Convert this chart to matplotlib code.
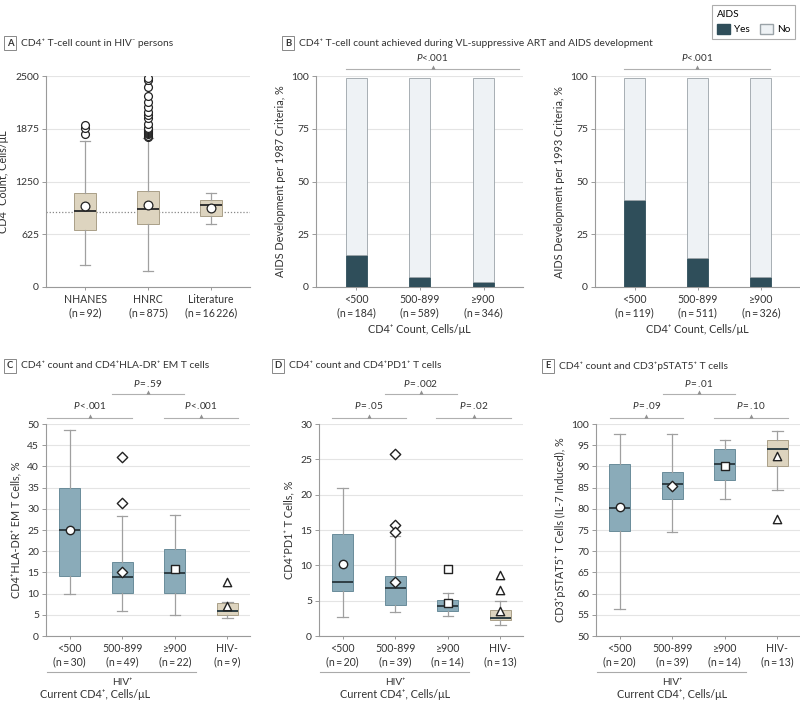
import matplotlib
matplotlib.use("Agg")
import matplotlib.pyplot as plt
from matplotlib.patches import Patch
import numpy as np

plt.rcParams['font.family'] = ['Lato', 'DejaVu Sans']
plt.rcParams['mathtext.fontset'] = 'custom'
plt.rcParams['mathtext.it'] = 'Lato:italic'
plt.rcParams['mathtext.rm'] = 'Lato'

# ---------------- data ----------------
A_groups = ['NHANES', 'HNRC', 'Literature']
A_n = ['92', '875', '16\u2009226']
A_lo = [265, 190, 752]
A_q1 = [680, 744, 839]
A_med = [902, 922, 969]
A_q3 = [1119, 1143, 1032]
A_hi = [1729, 1760, 1111]
A_mean = [957, 969, 937]
A_out_nhanes = [1808, 1879, 1918]
A_out_hnrc = [1772, 1790, 1812, 1825, 1839, 1848, 1855, 1867, 1880, 1930,
              1998, 2037, 2077, 2128, 2188, 2267, 2366, 2453, 2472]
A_out_lit = []
A_ref = 894

B_cats = ['<500', '500-899', '\u2265900']
B1_n = ['184', '589', '346']
B1_yes = [15.2, 4.7, 2.3]
B1_no = [83.8, 94.3, 96.7]
B2_n = ['119', '511', '326']
B2_yes = [41.3, 13.6, 4.6]
B2_no = [57.7, 85.4, 94.4]

CE_cats = ['<500', '500-899', '\u2265900', 'HIV-']

C_n = ['30', '49', '22', '9']
C_lo = [10.0, 5.9, 5.0, 4.3]
C_q1 = [14.1, 10.1, 10.2, 5.0]
C_med = [25.1, 13.8, 14.9, 5.8]
C_q3 = [35.0, 17.5, 20.6, 7.9]
C_hi = [48.5, 28.3, 28.5, 8.0]
C_mean = [25.1, 15.2, 15.8, 7.0]
C_out = [[], [42.2, 31.3], [], [12.8]]

D_n = ['20', '39', '14', '13']
D_lo = [2.7, 3.4, 2.8, 1.6]
D_q1 = [6.3, 4.4, 3.6, 2.3]
D_med = [7.7, 6.8, 4.2, 2.6]
D_q3 = [14.5, 8.45, 5.1, 3.7]
D_hi = [20.9, 14.2, 6.1, 4.9]
D_mean = [10.2, 7.7, 4.6, 3.5]
D_out = [[], [25.8, 15.7, 14.7], [9.5], [8.6, 6.5]]

E_n = ['20', '39', '14', '13']
E_lo = [56.4, 74.6, 82.2, 84.5]
E_q1 = [74.8, 82.3, 86.9, 90.2]
E_med = [80.1, 85.9, 90.5, 94.2]
E_q3 = [90.5, 88.6, 94.1, 96.3]
E_hi = [97.6, 97.6, 96.3, 98.3]
E_mean = [80.4, 85.4, 90.0, 92.4]
E_out = [[], [], [], [77.6]]

# ---------------- style ----------------
BLUE = '#8aabb9'
BLUE_EDGE = '#6a8c9a'
BEIGE = '#ddd4bf'
BEIGE_EDGE = '#a99f88'
DARK = '#2f4e5a'
LIGHT = '#eef2f5'
GRID = '#e4e4e4'
SPINE = '#9a9a9a'
TXT = '#333333'
TS = 7.2

W, H = 800, 701
fig = plt.figure(figsize=(W / 100, H / 100), dpi=100)


def px_axes(l, r, t, b):
    return fig.add_axes([l / W, 1 - b / H, (r - l) / W, (b - t) / H])


def style(ax, yticks, ylim, xlim):
    ax.set_ylim(*ylim)
    ax.set_xlim(*xlim)
    ax.set_yticks(yticks)
    ax.yaxis.grid(True, color=GRID, lw=0.8)
    ax.set_axisbelow(True)
    for s in ['top', 'right']:
        ax.spines[s].set_visible(False)
    for s in ['left', 'bottom']:
        ax.spines[s].set_color(SPINE)
        ax.spines[s].set_linewidth(0.8)
    ax.tick_params(axis='both', colors=SPINE, labelcolor=TXT, labelsize=TS + 0.3,
                   length=3, width=0.7, pad=2)
    ax.tick_params(axis='x', length=2, pad=3)


def ptext(s):
    return r'$P$' + s


def bracket(ax, x0, x1, yline, ytext, label):
    tr = ax.get_xaxis_transform()
    ax.plot([x0, x1], [yline, yline], transform=tr, clip_on=False,
            color='#b0b0b0', lw=0.8)
    xm = (x0 + x1) / 2
    ax.plot([xm], [yline + 0.008], transform=tr, clip_on=False, marker='^',
            ms=3, color='#909090', mec='none')
    ax.text(xm, ytext, ptext(label), transform=tr, ha='center', va='center',
            fontsize=TS, color=TXT)


def panel_label(x, y, letter, title):
    fig.text(x / W, 1 - y / H, letter, fontsize=6.8, fontweight='bold',
             color=TXT, ha='center', va='center',
             bbox=dict(boxstyle='square,pad=0.3', fc='white', ec='#888888',
                       lw=0.7))
    fig.text((x + 11) / W, 1 - y / H, title, fontsize=7.4, color=TXT,
             ha='left', va='center')


# ---------------- Panel A ----------------
axA = px_axes(46, 250, 76, 287)
posA = np.arange(len(A_groups))
statsA = []
for i in range(len(A_groups)):
    statsA.append(dict(whislo=A_lo[i], q1=A_q1[i], med=A_med[i], q3=A_q3[i],
                       whishi=A_hi[i], fliers=[]))
axA.bxp(statsA, positions=posA, widths=0.35, patch_artist=True,
        showfliers=False,
        boxprops=dict(facecolor=BEIGE, edgecolor=BEIGE_EDGE, lw=0.7),
        medianprops=dict(color='#333333', lw=1.4),
        whiskerprops=dict(color='#a0a0a0', lw=0.9),
        capprops=dict(color='#a0a0a0', lw=0.9), capwidths=0.15)
axA.axhline(A_ref, color='#888888', lw=0.9, ls=(0, (1, 1.5)), zorder=1)
for i, outs in enumerate([A_out_nhanes, A_out_hnrc, A_out_lit]):
    if outs:
        axA.scatter([posA[i]] * len(outs), outs, s=32, marker='o',
                    facecolor='white', edgecolor='#222222', lw=0.9, zorder=4)
axA.scatter(posA, A_mean, s=40, marker='o', facecolor='white',
            edgecolor='#222222', lw=0.9, zorder=5)
style(axA, [0, 625, 1250, 1875, 2500], (0, 2500), (-0.62, 2.62))
axA.set_xticks(posA)
axA.set_xticklabels([f'{g}\n(n\u2009=\u2009{n})' for g, n in zip(A_groups, A_n)],
                    fontsize=TS + 0.4, linespacing=1.25)
axA.set_ylabel('CD4\u207a Count, Cells/\u03bcL', fontsize=TS + 0.6, color=TXT,
               labelpad=4)
panel_label(10, 43, 'A', 'CD4\u207a T-cell count in HIV\u207b persons')

# ---------------- Panel B ----------------
panel_label(288, 43, 'B', 'CD4\u207a T-cell count achieved during '
            'VL-suppressive ART and AIDS development')


def bar_panel(ax, yes, no, ns, ylabel, br):
    pos = np.arange(len(B_cats))
    ax.bar(pos, yes, width=0.33, color=DARK, edgecolor=DARK, lw=0.6, zorder=3)
    ax.bar(pos, no, width=0.33, bottom=yes, color=LIGHT, edgecolor='#9aa3a8',
           lw=0.6, zorder=3)
    style(ax, [0, 25, 50, 75, 100], (0, 100), (-0.63, 2.62))
    ax.set_xticks(pos)
    ax.set_xticklabels([f'{c}\n(n\u2009=\u2009{n})' for c, n in zip(B_cats, ns)],
                       fontsize=TS + 0.4, linespacing=1.25)
    ax.set_ylabel(ylabel, fontsize=TS + 0.6, color=TXT, labelpad=4)
    ax.set_xlabel('CD4\u207a Count, Cells/\u03bcL', fontsize=TS + 0.6,
                  color=TXT, labelpad=4)
    bracket(ax, br[0], br[1], 1.033, 1.09, '<.001')


axB1 = px_axes(316, 523, 76, 287)
bar_panel(axB1, B1_yes, B1_no, B1_n,
          'AIDS Development per 1987 Criteria, %', (-0.16, 2.56))
axB2 = px_axes(595, 800, 76, 287)
bar_panel(axB2, B2_yes, B2_no, B2_n,
          'AIDS Development per 1993 Criteria, %', (-0.17, 2.14))

leg = fig.legend(handles=[Patch(facecolor=DARK, edgecolor=DARK, label='Yes'),
                          Patch(facecolor=LIGHT, edgecolor='#9aa3a8', label='No')],
                 title='AIDS', ncol=2, loc='upper right',
                 bbox_to_anchor=(1.0, 1.0), frameon=True, fancybox=False,
                 edgecolor='#999999', fontsize=TS, title_fontsize=TS,
                 handlelength=1.3, handleheight=1.1, handletextpad=0.4,
                 columnspacing=1.0, borderpad=0.5, alignment='left')
leg.get_frame().set_linewidth(0.8)

# ---------------- Panels C, D, E ----------------
MARKERS = ['o', 'D', 's', '^']
MSIZE = [36, 28, 34, 36]


def box_panel(ax, lo, q1, med, q3, hi, mean, outs, ns, yticks, ylim, ylabel,
              brackets, cur_x):
    pos = np.arange(len(CE_cats))
    stats = []
    for i in range(len(CE_cats)):
        stats.append(dict(whislo=lo[i], q1=q1[i], med=med[i], q3=q3[i],
                          whishi=hi[i], fliers=[]))
    parts = ax.bxp(stats, positions=pos, widths=0.4, patch_artist=True,
                   showfliers=False,
                   medianprops=dict(color='#2f3f45', lw=1.4),
                   whiskerprops=dict(color='#a0a0a0', lw=0.9),
                   capprops=dict(color='#a0a0a0', lw=0.9), capwidths=0.2)
    for i, b in enumerate(parts['boxes']):
        if i < 3:
            b.set_facecolor(BLUE)
            b.set_edgecolor(BLUE_EDGE)
        else:
            b.set_facecolor(BEIGE)
            b.set_edgecolor(BEIGE_EDGE)
        b.set_linewidth(0.7)
    for i in range(len(CE_cats)):
        pts = [mean[i]] + outs[i]
        ax.scatter([pos[i]] * len(pts), pts, s=MSIZE[i], marker=MARKERS[i],
                   facecolor='white', edgecolor='#222222', lw=1.0, zorder=5)
    style(ax, yticks, ylim, (-0.45, 3.43))
    ax.set_xticks(pos)
    ax.set_xticklabels([f'{c}\n(n\u2009=\u2009{n})' for c, n in zip(CE_cats, ns)],
                       fontsize=TS + 0.4, linespacing=1.25)
    ax.set_ylabel(ylabel, fontsize=TS + 0.6, color=TXT, labelpad=4)
    tr = ax.get_xaxis_transform()
    ax.plot([-0.44, 2.41], [-0.17, -0.17], transform=tr, clip_on=False,
            color='#aaaaaa', lw=0.8)
    ax.text(1.0, -0.217, 'HIV\u207a', transform=tr, ha='center', va='center',
            fontsize=TS, color=TXT)
    ax.text(cur_x, -0.278, 'Current CD4\u207a, Cells/\u03bcL', transform=tr,
            ha='center', va='center', fontsize=TS + 0.6, color=TXT)
    for (x0, x1, level, lab) in brackets:
        if level == 0:
            bracket(ax, x0, x1, 1.028, 1.085, lab)
        else:
            bracket(ax, x0, x1, 1.1415, 1.193, lab)


axC = px_axes(46, 250, 424, 636)
box_panel(axC, C_lo, C_q1, C_med, C_q3, C_hi, C_mean, C_out, C_n,
          np.arange(0, 51, 5), (0, 50), 'CD4\u207aHLA-DR\u207a EM T Cells, %',
          [(-0.43, 1.19, 0, '\u2009<.001'), (1.8, 3.2, 0, '\u2009<.001'),
           (0.8, 2.18, 1, '\u2009=\u2009.59')], 0.48)
panel_label(10, 366, 'C', 'CD4\u207a count and CD4\u207aHLA-DR\u207a EM T cells')

axD = px_axes(319, 523, 424, 636)
box_panel(axD, D_lo, D_q1, D_med, D_q3, D_hi, D_mean, D_out, D_n,
          np.arange(0, 31, 5), (0, 30), 'CD4\u207aPD1\u207a T Cells, %',
          [(-0.21, 1.21, 0, '\u2009=\u2009.05'), (1.78, 3.2, 0, '\u2009=\u2009.02'),
           (0.8, 2.18, 1, '\u2009=\u2009.002')], 1.0)
panel_label(278, 366, 'D', 'CD4\u207a count and CD4\u207aPD1\u207a T cells')

axE = px_axes(596, 800, 424, 636)
box_panel(axE, E_lo, E_q1, E_med, E_q3, E_hi, E_mean, E_out, E_n,
          np.arange(50, 101, 5), (50, 100),
          'CD3\u207apSTAT5\u207a T Cells (IL-7 Induced), %',
          [(-0.19, 1.21, 0, '\u2009=\u2009.09'), (1.8, 3.2, 0, '\u2009=\u2009.10'),
           (0.82, 2.2, 1, '\u2009=\u2009.01')], 1.0)
panel_label(548, 366, 'E', 'CD4\u207a count and CD3\u207apSTAT5\u207a T cells')

fig.savefig('out.png', dpi=100)
